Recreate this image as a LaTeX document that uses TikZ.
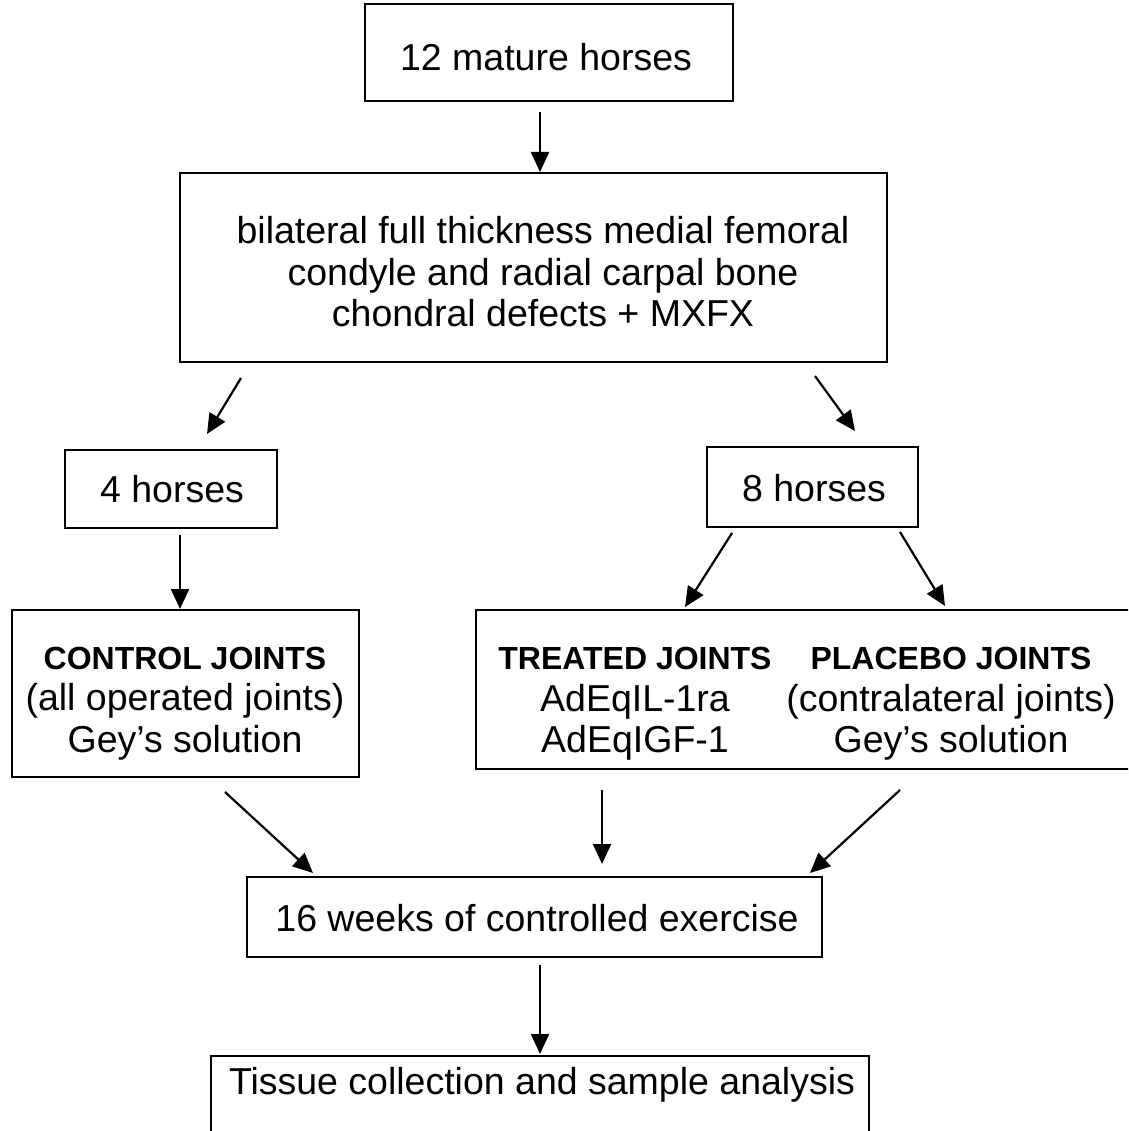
\documentclass[tikz,border=0pt]{standalone}
\usepackage{fontspec}
\setmainfont{Liberation Sans}
\usetikzlibrary{arrows.meta}
\tikzset{
  box/.style={draw, line width=2.4pt, inner sep=0pt},
  txt/.style={inner sep=0pt, align=center},
  arr/.style={line width=2.2pt, -{Triangle[length=20pt,width=18pt]}}
}
\newcommand{\bhead}[1]{{\bfseries\fontsize{32}{41.5}\selectfont #1}}
\begin{document}
\begin{tikzpicture}[x=1pt,y=-1pt, font=\fontsize{37.5}{41.5}\selectfont]
\clip (0,0) rectangle (1128,1131);
\fill[white] (0,0) rectangle (1128,1131);

% boxes
\node[box, minimum width=368, minimum height=97] (b1) at (549,52.5) {};
\node[box, minimum width=707, minimum height=189] (b2) at (533.5,267.5) {};
\node[box, minimum width=212, minimum height=78] (h4) at (171,489) {};
\node[box, minimum width=211, minimum height=80] (h8) at (812.5,487) {};
\node[box, minimum width=347, minimum height=167] (ctrl) at (185.5,693.5) {};
\node[box, minimum width=664, minimum height=159] (tp) at (808,689.5) {};
\node[box, minimum width=575, minimum height=80] (ex) at (534.5,917) {};
\node[box, anchor=north, minimum width=658, minimum height=120] (tis) at (540,1055) {};

% texts
\node[txt] (b1t) at (546,57) {12 mature horses};
\node[txt] (b2t) at (543,272) {bilateral full thickness medial femoral\\condyle and radial carpal bone\\chondral defects + MXFX};
\node[txt] (h4t) at (172,489) {4 horses};
\node[txt] (h8t) at (814,488) {8 horses};
\node[txt] (ctrlt) at (185,703.5) {\bhead{CONTROL JOINTS}\\(all operated joints)\\Gey’s solution};
\node[txt] (treated) at (635,704) {\bhead{TREATED JOINTS}\\AdEqIL-1ra\\AdEqIGF-1};
\node[txt] (placebo) at (951,704) {\bhead{PLACEBO JOINTS}\\(contralateral joints)\\Gey’s solution};
\node[txt] (ext) at (537,918) {16 weeks of controlled exercise};
\node[txt] (tist) at (542,1085) {Tissue collection and sample analysis};

% arrow end points
\coordinate (a1s) at (540,112);  \coordinate (a1e) at (540,172);
\coordinate (a2s) at (241,378);  \coordinate (a2e) at (207,434);
\coordinate (a3s) at (815,376);  \coordinate (a3e) at (855,431);
\coordinate (a4s) at (180,535);  \coordinate (a4e) at (180,609);
\coordinate (a5s) at (732,533);  \coordinate (a5e) at (685,607);
\coordinate (a6s) at (900,532);  \coordinate (a6e) at (945,606);
\coordinate (a7s) at (225,792);  \coordinate (a7e) at (313,873);
\coordinate (a8s) at (602,790);  \coordinate (a8e) at (602,864);
\coordinate (a9s) at (900,790);  \coordinate (a9e) at (810,873);
\coordinate (a10s) at (540,965); \coordinate (a10e) at (540,1054);

\draw[arr] (a1s) -- (a1e);
\draw[arr] (a2s) -- (a2e);
\draw[arr] (a3s) -- (a3e);
\draw[arr] (a4s) -- (a4e);
\draw[arr] (a5s) -- (a5e);
\draw[arr] (a6s) -- (a6e);
\draw[arr] (a7s) -- (a7e);
\draw[arr] (a8s) -- (a8e);
\draw[arr] (a9s) -- (a9e);
\draw[arr] (a10s) -- (a10e);
\end{tikzpicture}
\end{document}
